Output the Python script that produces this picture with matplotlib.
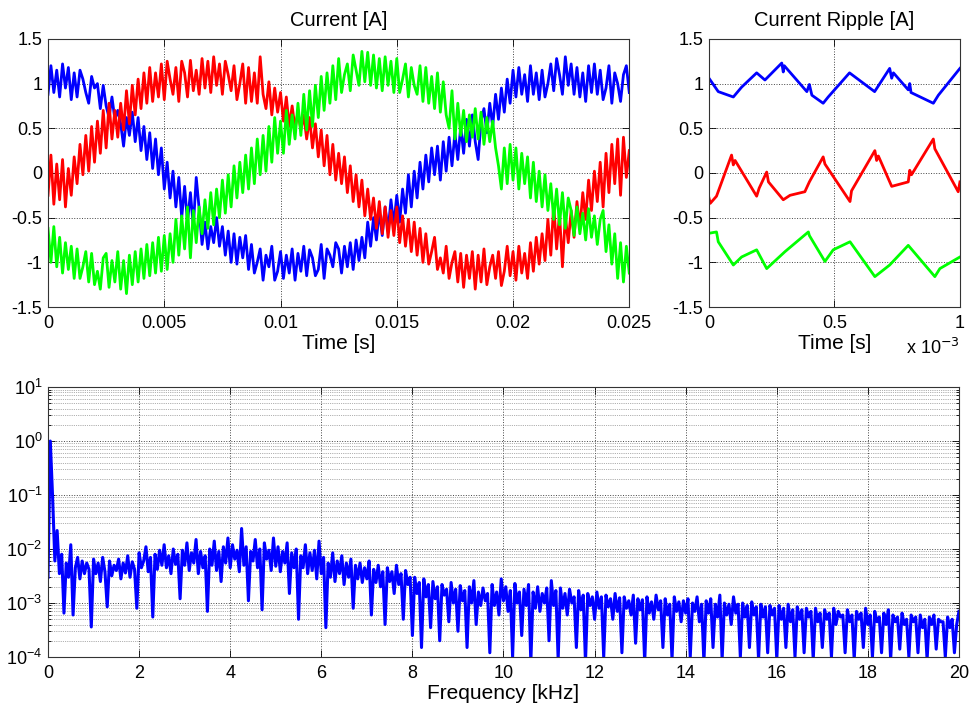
# Phase currents, ripple detail and current spectrum
import numpy as np
import matplotlib
matplotlib.use("Agg")
import matplotlib.pyplot as plt
from matplotlib.ticker import FormatStrFormatter, MultipleLocator, LogLocator

plt.rcParams['font.family'] = ['Liberation Sans', 'DejaVu Sans']

# ---- phase currents [A], sampled every 0.125 ms from 0 to 25 ms ----
i_blue = [
    0.88, 1.2, 0.9, 1.15, 0.85, 1.22, 0.95, 1.18, 0.82, 1.12,
    0.85, 1.15, 1.05, 0.9, 0.78, 1.08, 0.95, 1.0, 0.72, 0.98,
    0.75, 0.62, 0.85, 0.6, 0.7, 0.55, 0.3, 0.62, 0.42, 0.68,
    0.35, 0.62, 0.25, 0.52, 0.15, 0.45, 0.05, 0.38, -0.02, 0.28,
    -0.18, 0.12, -0.28, 0.02, -0.38, -0.05, -0.5, -0.15, -0.55, -0.22,
    -0.6, -0.05, -0.4, -0.8, -0.55, -0.85, -0.6, -0.78, -0.5, -0.82,
    -0.6, -0.92, -0.65, -1.0, -0.68, -1.02, -0.72, -0.95, -0.7, -1.08,
    -0.8, -1.12, -1.0, -0.85, -1.2, -0.92, -1.05, -0.82, -1.2, -1.1,
    -0.88, -1.18, -0.92, -1.12, -0.85, -1.2, -0.9, -1.1, -0.82, -1.15,
    -0.86, -0.95, -1.15, -1.08, -0.8, -1.18, -0.85, -0.92, -1.05, -0.78,
    -0.85, -1.12, -0.82, -1.05, -0.78, -1.08, -0.75, -0.98, -0.72, -0.95,
    -0.55, -0.82, -0.5, -0.75, -0.42, -0.7, -0.38, -0.65, -0.3, -0.58,
    -0.25, -0.55, -0.18, -0.45, -0.02, -0.38, 0.02, -0.28, 0.12, -0.18,
    0.2, -0.1, 0.28, -0.02, 0.3, -0.08, 0.35, 0.02, 0.4, 0.08,
    0.45, 0.15, 0.52, 0.22, 0.6, 0.3, 0.65, 0.35, 0.15, 0.58,
    0.72, 0.45, 0.78, 0.52, 0.88, 0.6, 0.95, 0.68, 1.05, 0.78,
    1.15, 0.85, 1.18, 0.88, 1.1, 0.8, 1.2, 0.88, 1.12, 0.82,
    1.15, 0.85, 1.0, 1.22, 0.92, 1.28, 1.1, 0.88, 1.3, 0.98,
    1.22, 0.88, 1.18, 0.85, 1.12, 0.8, 1.2, 0.9, 1.22, 0.88,
    1.15, 0.82, 0.95, 1.2, 0.78, 1.12, 1.0, 0.8, 1.1, 1.2,
    0.9,
]
i_red = [
    -0.25, 0.2, -0.35, 0.1, -0.3, 0.15, -0.38, 0.05, -0.25, 0.18,
    -0.12, 0.32, -0.02, 0.42, 0.02, 0.52, 0.12, 0.58, 0.22, 0.7,
    0.28, 0.78, 0.38, 0.7, 0.4, 0.78, 0.48, 0.92, 0.55, 0.98,
    0.65, 1.05, 0.72, 1.12, 0.78, 1.18, 0.8, 1.12, 0.85, 1.22,
    0.82, 1.25, 1.05, 0.88, 1.18, 0.8, 1.25, 1.12, 0.85, 1.26,
    0.92, 1.15, 0.88, 1.28, 0.95, 1.25, 0.9, 1.3, 0.98, 1.22,
    0.88, 1.25, 1.1, 0.92, 1.2, 0.82, 1.0, 1.22, 0.78, 1.18,
    0.8, 1.12, 0.78, 1.3, 0.88, 0.72, 1.02, 0.65, 0.95, 0.68,
    0.9, 0.58, 0.85, 0.52, 0.75, 0.5, 0.68, 0.48, 0.65, 0.38,
    0.62, 0.28, 0.55, 0.18, 0.48, 0.08, 0.42, -0.02, 0.32, -0.08,
    0.22, -0.12, 0.18, -0.22, 0.08, -0.32, -0.02, -0.38, -0.08, -0.48,
    -0.18, -0.52, -0.28, -0.62, -0.32, -0.68, -0.38, -0.72, -0.42, -0.7,
    -0.38, -0.78, -0.48, -0.82, -0.52, -0.88, -0.55, -0.92, -0.62, -1.0,
    -0.68, -1.02, -0.88, -0.72, -1.08, -0.95, -1.12, -0.82, -1.18, -1.0,
    -0.88, -1.22, -0.9, -1.28, -0.92, -1.18, -0.88, -1.3, -0.92, -1.22,
    -0.85, -1.25, -1.05, -0.92, -1.18, -0.88, -1.26, -1.1, -0.82, -1.15,
    -0.88, -1.2, -0.82, -1.12, -0.9, -1.18, -0.78, -1.1, -0.72, -1.02,
    -0.68, -0.98, -0.52, -0.92, -0.35, -0.85, -0.45, -1.05, -0.48, -0.78,
    -0.42, -0.72, -0.32, -0.62, -0.22, -0.52, -0.08, -0.42, 0.02, -0.32,
    0.12, -0.38, 0.22, -0.22, 0.32, -0.12, 0.38, -0.25, 0.4, -0.05,
    0.25,
]
i_green = [
    -0.62, -1.0, -0.6, -1.05, -0.72, -1.12, -0.78, -1.08, -0.82, -1.18,
    -0.85, -1.18, -1.05, -0.88, -1.22, -0.9, -1.25, -1.1, -1.3, -0.95,
    -0.9, -1.28, -0.98, -1.22, -0.88, -1.3, -0.98, -1.35, -0.92, -1.25,
    -0.88, -1.22, -0.85, -1.18, -0.8, -1.15, -0.78, -1.12, -0.72, -1.1,
    -0.7, -1.08, -0.68, -1.0, -0.52, -0.92, -0.48, -0.85, -0.38, -0.95,
    -0.42, -0.78, -0.38, -0.68, -0.3, -0.62, -0.22, -0.58, -0.18, -0.5,
    -0.08, -0.45, -0.02, -0.38, 0.08, -0.28, 0.12, -0.22, 0.2, -0.18,
    0.28, -0.12, 0.38, -0.02, 0.42, 0.02, 0.52, 0.12, 0.62, 0.22,
    0.58, 0.22, 0.7, 0.32, 0.65, 0.38, 0.78, 0.42, 0.88, 0.48,
    0.92, 0.52, 0.98, 0.62, 1.08, 0.7, 1.12, 0.78, 1.2, 0.82,
    1.28, 0.9, 1.1, 1.22, 0.92, 1.32, 1.15, 0.98, 1.36, 1.02,
    1.35, 0.98, 1.32, 0.95, 1.28, 0.92, 1.3, 0.98, 1.25, 0.9,
    1.28, 0.9, 1.05, 1.22, 0.85, 1.18, 0.98, 0.88, 1.2, 0.8,
    1.18, 0.78, 1.08, 0.72, 1.12, 0.68, 1.02, 0.65, 0.5, 0.92,
    0.38, 0.78, 0.42, 0.7, 0.35, 0.65, 0.4, 0.72, 0.38, 0.68,
    0.32, 0.62, 0.35, 0.58, 0.28, 0.08, -0.18, 0.28, -0.12, 0.32,
    -0.08, 0.28, -0.18, 0.22, -0.12, 0.18, -0.28, 0.12, -0.32, 0.02,
    -0.38, -0.02, -0.42, -0.12, -0.52, -0.18, -0.58, -0.22, -0.62, -0.28,
    -0.42, -0.7, -0.38, -0.68, -0.45, -0.75, -0.4, -0.72, -0.48, -0.8,
    -0.52, -0.42, -0.88, -0.58, -1.02, -0.68, -1.18, -0.78, -1.22, -0.82,
    -1.12,
]
t_current = np.linspace(0, 0.025, len(i_blue))

# ---- ripple detail over 1 ms (time in ms) ----
rip_blue_t = [0, 0.037, 0.097, 0.13, 0.19, 0.223, 0.29, 0.296, 0.30, 0.39, 0.40, 0.41,
              0.455, 0.475, 0.56, 0.66, 0.72, 0.728, 0.735, 0.794, 0.80, 0.805, 0.894, 0.914, 1.0]
rip_blue = [1.06, 0.91, 0.85, 0.96, 1.12, 1.04, 1.23, 1.13, 1.20, 0.91, 0.99, 0.87,
            0.78, 0.85, 1.12, 0.91, 1.17, 1.06, 1.12, 0.93, 1.0, 0.9, 0.78, 0.87, 1.17]
rip_red_t = [0, 0.005, 0.03, 0.09, 0.097, 0.104, 0.19, 0.20, 0.23, 0.237, 0.296, 0.323,
             0.382, 0.40, 0.455, 0.462, 0.562, 0.568, 0.661, 0.668, 0.675, 0.728, 0.794,
             0.80, 0.807, 0.894, 0.90, 0.993, 1.0]
rip_red = [-0.28, -0.34, -0.26, 0.2, 0.09, 0.14, -0.26, -0.17, 0.01, -0.1, -0.30, -0.25,
           -0.21, -0.1, 0.18, 0.1, -0.32, -0.2, 0.25, 0.14, 0.19, -0.15, -0.1,
           0.03, -0.02, 0.38, 0.27, -0.21, -0.1]
rip_green_t = [0, 0.03, 0.037, 0.097, 0.13, 0.19, 0.23, 0.303, 0.396, 0.40, 0.462,
               0.495, 0.562, 0.661, 0.72, 0.794, 0.90, 0.92, 1.0]
rip_green = [-0.675, -0.66, -0.77, -1.03, -0.94, -0.86, -1.07, -0.88, -0.66, -0.70, -0.99,
             -0.86, -0.77, -1.16, -1.03, -0.81, -1.16, -1.07, -0.94]

# ---- current spectrum, 0 to 20 kHz every 50 Hz, magnitude in mA ----
spec_mA = [
    3.0, 1000, 95, 6, 22, 3.5, 8, 0.65, 5.5, 3, 12, 0.6, 4.5, 7, 2.8, 6, 3.5, 5.5, 4.2, 0.36,
    6.5, 3.5, 5.5, 2.5, 7, 3.8, 0.85, 6, 3.2, 5, 4, 6.5, 2.8, 5.5, 3.6, 7.5, 3, 5.8, 4.2, 0.8,
    8.5, 4.5, 6, 11, 3.8, 7, 0.55, 8, 4.2, 9.5, 5, 12, 4.5, 7.5, 3.5, 10, 5.2, 8, 1.2, 9.5,
    5, 13, 4, 8.5, 5.5, 15, 3.5, 9, 4.5, 7.5, 0.7, 10, 5, 14, 4, 9, 2.5, 11, 5.5, 16,
    4.5, 12, 6.5, 9.5, 3.8, 24, 5, 11, 1.1, 9, 6, 15, 4.5, 10, 0.75, 13, 6.5, 9.5, 4, 16,
    4.8, 11, 3.8, 9, 5.5, 13, 1.5, 8.5, 4.5, 10, 0.5, 7.5, 4.5, 12, 3.5, 8.5, 4, 9.5, 2.8, 14,
    3.5, 7, 0.35, 5.5, 3, 8.5, 2.5, 6, 3.5, 7.5, 2.2, 5.5, 3, 6.5, 0.8, 5, 2.8, 5.5, 2.4, 4.5,
    2.8, 6, 0.6, 4.2, 2.4, 5, 2, 3.8, 0.4, 4.5, 2.5, 3.8, 1.5, 5, 2.2, 3.5, 0.5, 4, 2.2, 3,
    0.25, 3, 1.5, 2.4, 0.15, 2.8, 1.3, 2.2, 0.35, 2.5, 1.2, 2, 0.2, 2.2, 1.4, 1.8, 0.45, 2.4, 1, 1.8,
    0.3, 2.1, 1.1, 1.7, 0.15, 2, 1, 2.6, 0.4, 1.6, 0.9, 1.9, 1.1, 1.5, 0.12, 2.2, 0.9, 1.6, 0.6, 2.8,
    1.1, 2, 0.7, 1.7, 0.1, 2.3, 1, 1.6, 0.25, 1.8, 0.9, 2.2, 0.08, 1.6, 0.8, 2, 0.7, 1.5, 1, 1.9,
    0.2, 2.6, 0.9, 1.7, 0.09, 1.9, 0.8, 1.5, 0.6, 1.8, 1, 1.3, 0.15, 1.7, 0.75, 1.4, 0.08, 1.5, 0.9, 1.3,
    0.5, 1.6, 0.8, 1.3, 0.1, 1.4, 0.85, 1.2, 0.5, 1.5, 0.7, 1.25, 0.12, 1.3, 0.8, 1.1, 0.6, 1.4, 0.18, 1.2,
    0.75, 1.15, 0.08, 1.3, 0.65, 1.05, 0.5, 1.4, 0.75, 1.1, 0.15, 1.2, 0.6, 0.95, 0.09, 1.3, 0.7, 1.05, 0.45, 1.1,
    0.65, 1.2, 0.1, 1.0, 0.7, 1.3, 0.45, 0.95, 0.08, 1.1, 0.65, 1.2, 0.15, 0.95, 0.55, 1.4, 0.09, 1.0, 0.6, 0.95,
    0.4, 1.3, 0.65, 0.95, 0.1, 1.0, 0.55, 0.9, 0.15, 1.05, 0.6, 0.85, 0.09, 0.95, 0.55, 0.85, 0.12, 0.9, 0.6, 0.8,
    0.09, 0.9, 0.5, 0.8, 0.15, 0.95, 0.45, 0.75, 0.1, 0.85, 0.5, 0.75, 0.12, 0.8, 0.55, 0.7, 0.09, 0.8, 0.45, 0.65,
    0.15, 0.75, 0.5, 0.65, 0.1, 0.8, 0.4, 0.7, 0.55, 0.6, 0.12, 0.75, 0.45, 0.6, 0.09, 0.7, 0.5, 0.65, 0.15, 0.8,
    0.4, 0.6, 0.1, 0.7, 0.45, 0.55, 0.12, 0.65, 0.4, 0.75, 0.09, 0.6, 0.45, 0.55, 0.14, 0.65, 0.4, 0.5, 0.1, 0.6,
    0.45, 0.55, 0.12, 0.6, 0.35, 0.5, 0.09, 0.55, 0.4, 0.6, 0.14, 0.5, 0.45, 0.45, 0.1, 0.55, 0.35, 0.5, 0.12, 0.4,
    0.7,
]
freq_khz = np.linspace(0, 20, len(spec_mA))
spec = np.array(spec_mA) * 1e-3

BLUE, RED, GREEN = '#0000ff', '#ff0000', '#00ff00'


def matlab_look(ax):
    ax.tick_params(which='both', direction='in', top=True, right=True,
                   labelsize=13, width=0.6)
    ax.tick_params(axis='x', pad=6)
    ax.tick_params(axis='y', pad=4)
    ax.tick_params(which='major', length=5)
    ax.tick_params(which='minor', length=2.5)
    for s in ax.spines.values():
        s.set_linewidth(0.8)
        s.set_color('#333333')


fig = plt.figure(figsize=(9.72, 7.15), dpi=100)

# currents
ax1 = fig.add_axes([0.0494, 0.5706, 0.598, 0.375])
ax1.plot(t_current, i_blue, color=BLUE, lw=2)
ax1.plot(t_current, i_red, color=RED, lw=2)
ax1.plot(t_current, i_green, color=GREEN, lw=2)
ax1.set_xlim(0, 0.025)
ax1.set_ylim(-1.5, 1.5)
ax1.xaxis.set_major_locator(MultipleLocator(0.005))
ax1.yaxis.set_major_locator(MultipleLocator(0.5))
ax1.xaxis.set_major_formatter(FormatStrFormatter('%g'))
ax1.yaxis.set_major_formatter(FormatStrFormatter('%g'))
ax1.grid(True, linestyle=':', color='#444444', linewidth=0.7)
ax1.set_title('Current [A]', fontsize=14.5, pad=9)
ax1.set_xlabel('Time [s]', fontsize=15, labelpad=1)
matlab_look(ax1)

# ripple
ax2 = fig.add_axes([0.7294, 0.5706, 0.2582, 0.375])
ax2.plot(rip_blue_t, rip_blue, color=BLUE, lw=2)
ax2.plot(rip_red_t, rip_red, color=RED, lw=2)
ax2.plot(rip_green_t, rip_green, color=GREEN, lw=2)
ax2.set_xlim(0, 1)
ax2.set_ylim(-1.5, 1.5)
ax2.xaxis.set_major_locator(MultipleLocator(0.5))
ax2.yaxis.set_major_locator(MultipleLocator(0.5))
ax2.xaxis.set_major_formatter(FormatStrFormatter('%g'))
ax2.yaxis.set_major_formatter(FormatStrFormatter('%g'))
ax2.grid(True, linestyle=':', color='#444444', linewidth=0.7)
ax2.set_title('Current Ripple [A]', fontsize=14.5, pad=9)
ax2.set_xlabel('Time [s]', fontsize=15, labelpad=1)
ax2.text(1.0, -0.115, r'x 10$^{-3}$', transform=ax2.transAxes,
         ha='right', va='top', fontsize=13)
matlab_look(ax2)

# spectrum
ax3 = fig.add_axes([0.0494, 0.0811, 0.9372, 0.3776])
ax3.plot(freq_khz, spec, color=BLUE, lw=2.2)
ax3.set_yscale('log')
ax3.set_xlim(0, 20)
ax3.set_ylim(1e-4, 10)
ax3.xaxis.set_major_locator(MultipleLocator(2))
ax3.yaxis.set_major_locator(LogLocator(base=10, numticks=10))
ax3.yaxis.set_minor_locator(LogLocator(base=10, subs=np.arange(2, 10), numticks=10))
ax3.grid(True, which='major', linestyle=':', color='#444444', linewidth=0.7)
ax3.grid(True, which='minor', axis='y', linestyle=':', color='#666666', linewidth=0.5)
ax3.set_xlabel('Frequency [kHz]', fontsize=15, labelpad=1)
matlab_look(ax3)

fig.savefig('out.png', dpi=100)
